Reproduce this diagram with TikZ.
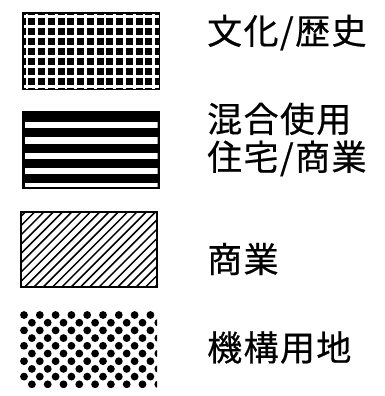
\documentclass[tikz,border=0pt]{standalone}
\usepackage{fontspec}
\newfontfamily\jpfont[FakeBold=0.5,LetterSpace=4]{Noto Sans CJK JP}

\begin{document}
\begin{tikzpicture}[x=1pt,y=-1pt,
  legendtext/.style={anchor=west,inner sep=0pt,align=left,
    font=\jpfont\fontsize{35}{38}\selectfont},
  frame/.style={draw=black,line width=1.8pt}]
\useasboundingbox (0,0) rectangle (385,396);

% Swatch 1: grid
\fill[black] (23,13) rectangle (159.5,89.5);
\foreach \i in {0,...,13}
  \draw[white,line width=2.7pt] (27+9.75*\i,13) -- (27+9.75*\i,89.5);
\foreach \j in {0,...,7}
  \draw[white,line width=2.7pt] (23,16.7+10*\j) -- (159.5,16.7+10*\j);
\draw[frame] (23,13) rectangle (159.5,89.5);
\node[legendtext] (cult) at (207,32.5) {文化/歴史};

% Swatch 2: stripes
\fill[black] (23,112.3) rectangle (159.5,188);
\begin{scope}
  \clip (25,114.3) rectangle (157.5,186);
  \foreach \j in {0,...,4}
    \fill[white] (25,122.1+15.3*\j) rectangle (157.5,128.4+15.3*\j);
\end{scope}
\draw[frame] (23,112.3) rectangle (159.5,188);
\node[legendtext] (mixed) at (207,139.5) {混合使用\\住宅/商業};

% Swatch 3: hatching
\begin{scope}
  \clip (21,212.3) rectangle (157,286.7);
  \foreach \k in {0,...,24}
    \draw[black,line width=1.5pt] (25+9.3*\k,212.3) -- (25+9.3*\k-80,292.3);
\end{scope}
\draw[frame] (21,212.3) rectangle (157,286.7);
\node[legendtext] (comm) at (207,259) {商業};

% Swatch 4: dots
\begin{scope}
  \clip (20,311) rectangle (157,387);
  \foreach \j in {0,2,...,8}
    \foreach \i in {0,...,9}
      \fill[black] (24+15.8*\i,315+7.7*\j) circle (3.9);
  \foreach \j in {1,3,...,9}
    \foreach \i in {-1,...,9}
      \fill[black] (31.9+15.8*\i,315+7.7*\j) circle (3.9);
\end{scope}
\node[legendtext] (inst) at (207,347.5) {機構用地};

\end{tikzpicture}
\end{document}
